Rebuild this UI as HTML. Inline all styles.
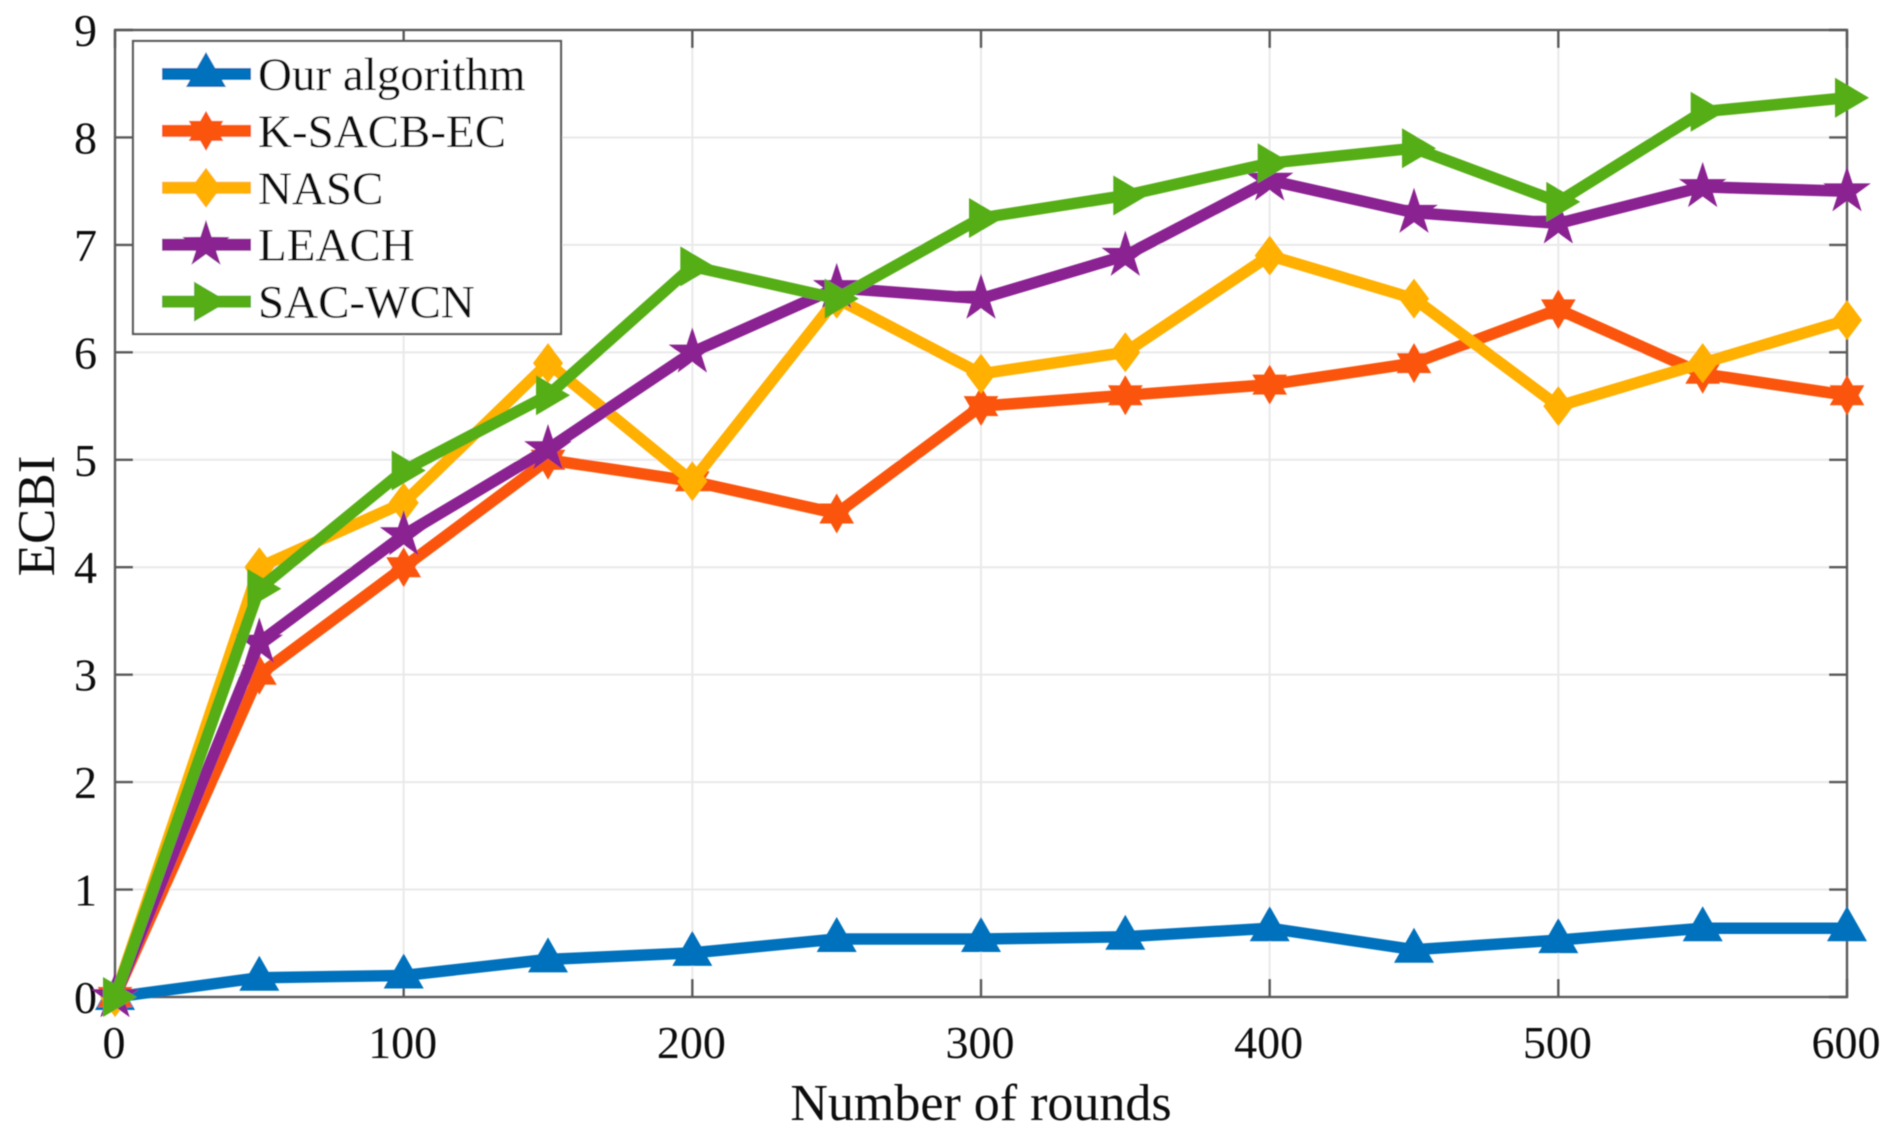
<!DOCTYPE html>
<html>
<head>
<meta charset="utf-8">
<title>ECBI vs number of rounds</title>
<style>
html,body{margin:0;padding:0;background:#fff;width:1899px;height:1139px;overflow:hidden}
svg{display:block}
text{font-family:"Liberation Serif","Times New Roman",serif;fill:#111}
</style>
</head>
<body>
<svg id="chart" xmlns="http://www.w3.org/2000/svg" width="1899" height="1139" viewBox="0 0 1899 1139">
<defs><filter id="soft" x="-2%" y="-2%" width="104%" height="104%"><feGaussianBlur stdDeviation="0.55"/></filter></defs>
<g id="root" filter="url(#soft)"></g>
</svg>
<script>
const rounds = [0,50,100,150,200,250,300,350,400,450,500,550,600];
const seriesNames = ["Our algorithm","K-SACB-EC","NASC","LEACH","SAC-WCN"];
const ourAlgorithm = [0,0.18,0.2,0.35,0.41,0.54,0.54,0.56,0.64,0.44,0.53,0.64,0.64];
const kSacbEc = [0,3,4,5,4.8,4.5,5.5,5.6,5.7,5.9,6.4,5.8,5.6];
const nasc = [0,4,4.6,5.9,4.8,6.5,5.8,6,6.9,6.5,5.5,5.9,6.3];
const leach = [0,3.3,4.3,5.1,6,6.6,6.5,6.9,7.6,7.3,7.2,7.54,7.5];
const sacWcn = [0,3.8,4.9,5.6,6.8,6.5,7.25,7.46,7.76,7.9,7.4,8.24,8.37];
const xTicks = [0,100,200,300,400,500,600];
const yTicks = [0,1,2,3,4,5,6,7,8,9];

const NS = "http://www.w3.org/2000/svg";
const root = document.getElementById("root");
const L = 115, R = 1847, T = 30, B = 997;
const xMax = 600, yMax = 9;
function sx(v){ return L + (R - L) * v / xMax; }
function sy(v){ return B - (B - T) * v / yMax; }
function make(tag, attrs, parent){
  const e = document.createElementNS(NS, tag);
  for (const k in attrs) e.setAttribute(k, attrs[k]);
  (parent || root).appendChild(e);
  return e;
}
function pts(list){ return list.map(p => p[0].toFixed(1) + "," + p[1].toFixed(1)).join(" "); }
function starPts(cx, cy, n, rOuter, rInner){
  const out = [];
  for (let i = 0; i < n * 2; i++) {
    const r = i % 2 ? rInner : rOuter;
    const a = -Math.PI / 2 + i * Math.PI / n;
    out.push([cx + r * Math.cos(a), cy + r * Math.sin(a)]);
  }
  return out;
}
const markerShapes = {
  triangle: (x, y) => [[x, y - 22], [x + 20, y + 13], [x - 20, y + 13]],
  hexagram: (x, y) => starPts(x, y, 6, 20, 11.5),
  diamond: (x, y) => [[x, y - 20], [x + 15, y], [x, y + 20], [x - 15, y]],
  pentagram: (x, y) => starPts(x, y, 5, 25, 9.6),
  right: (x, y) => [[x - 12, y - 20], [x + 22, y], [x - 12, y + 20]]
};
const seriesValues = [ourAlgorithm, kSacbEc, nasc, leach, sacWcn];
const seriesColors = ["#0072bd","#fb5507","#ffb000","#8b2492","#55ae12"];
const seriesMarkers = ["triangle","hexagram","diamond","pentagram","right"];

/* grid */
const grid = make("g", {stroke:"#e9e9e9","stroke-width":2,fill:"none"});


xTicks.forEach(v => { make("line", {x1:sx(v), x2:sx(v), y1:T, y2:B}, grid); });
yTicks.forEach(v => { make("line", {x1:L, x2:R, y1:sy(v), y2:sy(v)}, grid); });

/* axes box and ticks */
const axes = make("g", {stroke:"#5a5a5a","stroke-width":2.4,fill:"none"});


make("rect", {x:L, y:T, width:R-L, height:B-T}, axes);
xTicks.forEach(v => {
  make("line", {x1:sx(v), x2:sx(v), y1:B, y2:B-18}, axes);
  make("line", {x1:sx(v), x2:sx(v), y1:T, y2:T+18}, axes);
});
yTicks.forEach(v => {
  make("line", {x1:L, x2:L+18, y1:sy(v), y2:sy(v)}, axes);
  make("line", {x1:R, x2:R-18, y1:sy(v), y2:sy(v)}, axes);
});

/* tick labels */
xTicks.forEach(v => {
  const t = make("text", {x:sx(v)-1, y:1058, "text-anchor":"middle", "font-size":46});
  
  
  t.textContent = v;
});
yTicks.forEach(v => {
  const t = make("text", {x:97, y:sy(v)+16, "text-anchor":"end", "font-size":46});
  
  
  t.textContent = v;
});

/* axis titles */
const xTitle = make("text", {x:981, y:1120, "text-anchor":"middle", "font-size":52});


xTitle.textContent = "Number of rounds";
const yTitle = make("text", {x:0, y:0, "text-anchor":"middle", "font-size":53, transform:"translate(54 516) rotate(-90)"});


yTitle.textContent = "ECBI";

/* series */
seriesValues.forEach((vals, s) => {
  const g = make("g", {});
  
  
  const xy = vals.map((v, i) => [sx(rounds[i]), sy(v)]);
  const line = make("polyline", {points:pts(xy), fill:"none", stroke:seriesColors[s], "stroke-width":11.5, "stroke-linejoin":"round"}, g);
  
  
  xy.forEach(p => {
    const m = make("polygon", {points:pts(markerShapes[seriesMarkers[s]](p[0], p[1])), fill:seriesColors[s]}, g);
    
    
  });
});

/* legend */
const lg = make("g", {});


make("rect", {x:133, y:41, width:428, height:293, fill:"#fff", stroke:"#5a5a5a", "stroke-width":2.2}, lg);
const legendRowStep = 56.9;
seriesNames.forEach((name, s) => {
  const y = 74 + legendRowStep * s;
  const row = make("g", {}, lg);
  
  
  make("line", {x1:162, x2:251, y1:y, y2:y, stroke:seriesColors[s], "stroke-width":12}, row);
  make("polygon", {points:pts(markerShapes[seriesMarkers[s]](206, y)), fill:seriesColors[s]}, row);
  const t = make("text", {x:258, y:y+16, "font-size":47}, row);
  
  
  t.textContent = name;
});
</script>
</body>
</html>
